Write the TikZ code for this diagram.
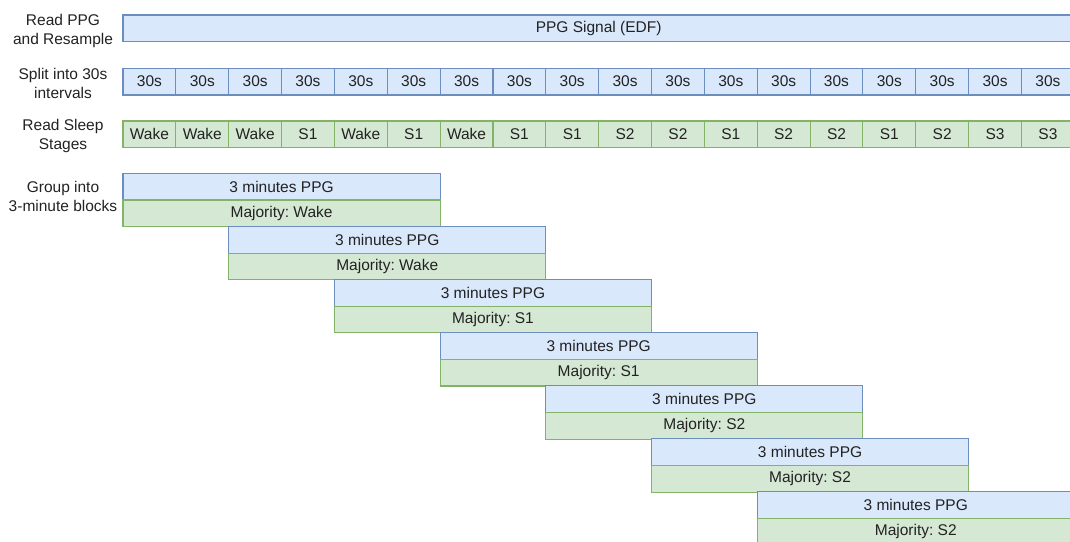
\documentclass[tikz,border=0pt]{standalone}
\usepackage{fontspec}
\setmainfont{Liberation Sans}
\definecolor{bfill}{HTML}{DAE8FC}
\definecolor{bdraw}{HTML}{6C8EBF}
\definecolor{gfill}{HTML}{D5E8D4}
\definecolor{gdraw}{HTML}{82B366}
\definecolor{txt}{HTML}{222222}
\begin{document}
\frenchspacing
\begin{tikzpicture}[x=1pt,y=-1pt,
  every node/.style={font=\fontsize{15.5}{19}\selectfont, text=txt, inner sep=0pt, outer sep=0pt},
  bluebox/.style={draw=bdraw, fill=bfill, line width=1.1pt, anchor=north west, minimum height=26.7pt},
  greenbox/.style={draw=gdraw, fill=gfill, line width=1.1pt, anchor=north west, minimum height=26.7pt},
  steplabel/.style={align=center}]
\useasboundingbox (0,0) rectangle (1070,541);
\clip (0,0) rectangle (1070,541);
\def\cw{52.85}
% step labels
\node[steplabel] (l1) at (63,30.5) {Read PPG\\and Resample};
\node[steplabel] (l2) at (63,83.5) {Split into 30s\\intervals};
\node[steplabel] (l3) at (63,136) {Read Sleep\\Stages};
\node[steplabel] (l4) at (63,196.5) {Group into\\3-minute blocks};
% PPG bar
\node[bluebox, minimum width=18*\cw pt] (ppg) at (123,15) {PPG Signal (EDF)};
% 30 s cells and sleep stages
\foreach \s [count=\i from 0] in {Wake,Wake,Wake,S1,Wake,S1,Wake,S1,S1,S2,S2,S1,S2,S2,S1,S2,S3,S3} {
  \node[bluebox, minimum width=\cw pt] (c\i) at ({123+\i*\cw},68.3) {30s};
  \node[greenbox, minimum width=\cw pt] (s\i) at ({123+\i*\cw},121) {\s};
}
% 3-minute blocks
\foreach \m [count=\i from 0] in {Wake,Wake,S1,S1,S2,S2,S2} {
  \node[bluebox, minimum width=6*\cw pt] (p\i) at ({123+2*\i*\cw},{173.3+53.1*\i}) {3 minutes PPG};
  \node[greenbox, minimum width=6*\cw pt] (m\i) at (p\i.south west) {Majority: \m};
}
\end{tikzpicture}
\end{document}
